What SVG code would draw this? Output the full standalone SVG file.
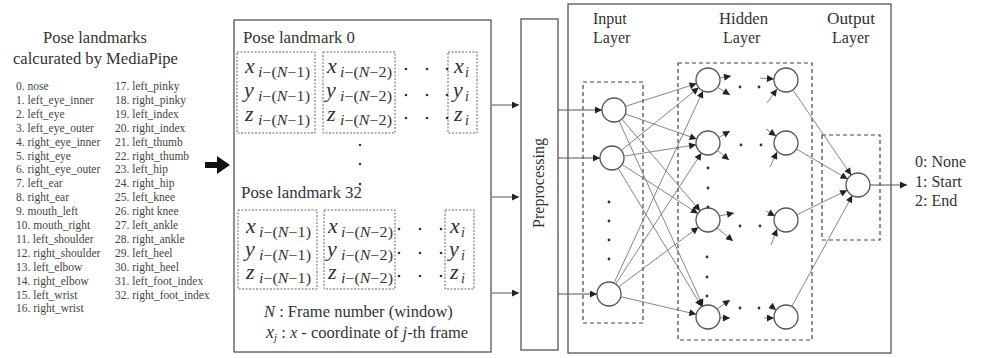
<svg xmlns="http://www.w3.org/2000/svg" width="982" height="358" viewBox="0 0 982 358" font-family="'Liberation Serif', 'DejaVu Serif', serif">
<style>
text{font-family:'Liberation Serif','DejaVu Serif',serif;fill:#333}
.title{font-size:17px}
.lst{font-size:11.5px;fill:#444}
.lbl{font-size:16px}
.pl{font-size:16.5px}
.m{font-size:22px;font-style:italic}
.s{font-size:14px}
.box{fill:none;stroke:#555;stroke-width:1.3}
.dot{fill:none;stroke:#666;stroke-width:1;stroke-dasharray:2 1.5}
.dash{fill:none;stroke:#444;stroke-width:1.2;stroke-dasharray:4 3}
.node{fill:#fff;stroke:#555;stroke-width:1.3}
.ln{stroke:#777;stroke-width:0.9;fill:none}
.ar{stroke:#555;stroke-width:1;fill:none}
.pt{fill:#333}
</style>
<defs>
<marker id="ah" viewBox="0 0 10 10" refX="10" refY="5" markerWidth="8" markerHeight="7" markerUnits="userSpaceOnUse" orient="auto">
<path d="M0,0 L10,5 L0,10 z" fill="#222"/>
</marker>
</defs>
<rect width="982" height="358" fill="#fff"/>

<g id="landmark-list">
<text class="title" x="43" y="43" textLength="104" lengthAdjust="spacingAndGlyphs">Pose landmarks</text>
<text class="title" x="13" y="64" textLength="165" lengthAdjust="spacingAndGlyphs">calcurated by MediaPipe</text>
<g class="lst">
<text class="lst" x="16" y="90">0. nose</text>
<text class="lst" x="16" y="103.9">1. left_eye_inner</text>
<text class="lst" x="16" y="117.8">2. left_eye</text>
<text class="lst" x="16" y="131.7">3. left_eye_outer</text>
<text class="lst" x="16" y="145.6">4. right_eye_inner</text>
<text class="lst" x="16" y="159.5">5. right_eye</text>
<text class="lst" x="16" y="173.4">6. right_eye_outer</text>
<text class="lst" x="16" y="187.3">7. left_ear</text>
<text class="lst" x="16" y="201.2">8. right_ear</text>
<text class="lst" x="16" y="215.1">9. mouth_left</text>
<text class="lst" x="16" y="229">10. mouth_right</text>
<text class="lst" x="16" y="242.9">11. left_shoulder</text>
<text class="lst" x="16" y="256.8">12. right_shoulder</text>
<text class="lst" x="16" y="270.7">13. left_elbow</text>
<text class="lst" x="16" y="284.6">14. right_elbow</text>
<text class="lst" x="16" y="298.5">15. left_wrist</text>
<text class="lst" x="16" y="312.4">16. right_wrist</text>
<text class="lst" x="115" y="90">17. left_pinky</text>
<text class="lst" x="115" y="103.9">18. right_pinky</text>
<text class="lst" x="115" y="117.8">19. left_index</text>
<text class="lst" x="115" y="131.7">20. right_index</text>
<text class="lst" x="115" y="145.6">21. left_thumb</text>
<text class="lst" x="115" y="159.5">22. right_thumb</text>
<text class="lst" x="115" y="173.4">23. left_hip</text>
<text class="lst" x="115" y="187.3">24. right_hip</text>
<text class="lst" x="115" y="201.2">25. left_knee</text>
<text class="lst" x="115" y="215.1">26. right knee</text>
<text class="lst" x="115" y="229">27. left_ankle</text>
<text class="lst" x="115" y="242.9">28. right_ankle</text>
<text class="lst" x="115" y="256.8">29. left_heel</text>
<text class="lst" x="115" y="270.7">30. right_heel</text>
<text class="lst" x="115" y="284.6">31. left_foot_index</text>
<text class="lst" x="115" y="298.5">32. right_foot_index</text>
</g>
</g>

<g id="big-arrow">
<path d="M205,162 L217,162 L217,156 L230,165 L217,174 L217,168 L205,168 z" fill="#111"/>
</g>

<g id="landmark-box">
<rect class="box" x="234" y="20" width="257" height="332"/>
<text class="pl" x="243" y="43" textLength="112" lengthAdjust="spacingAndGlyphs">Pose landmark 0</text>
<rect class="dot" x="237" y="52" width="78" height="81"/>
<rect class="dot" x="323" y="52" width="72" height="81"/>
<rect class="dot" x="448" y="52" width="29" height="81"/>
<text class="m" x="245" y="73">x</text><text class="s" x="258" y="77" textLength="52" lengthAdjust="spacingAndGlyphs"><tspan font-style="italic">i</tspan>−(<tspan font-style="italic">N</tspan>−1)</text>
<text class="m" x="244" y="97">y</text><text class="s" x="258" y="101" textLength="52" lengthAdjust="spacingAndGlyphs"><tspan font-style="italic">i</tspan>−(<tspan font-style="italic">N</tspan>−1)</text>
<text class="m" x="245" y="121">z</text><text class="s" x="258" y="125" textLength="52" lengthAdjust="spacingAndGlyphs"><tspan font-style="italic">i</tspan>−(<tspan font-style="italic">N</tspan>−1)</text>
<text class="m" x="327" y="73">x</text><text class="s" x="340" y="77" textLength="52" lengthAdjust="spacingAndGlyphs"><tspan font-style="italic">i</tspan>−(<tspan font-style="italic">N</tspan>−2)</text>
<text class="m" x="326" y="97">y</text><text class="s" x="340" y="101" textLength="52" lengthAdjust="spacingAndGlyphs"><tspan font-style="italic">i</tspan>−(<tspan font-style="italic">N</tspan>−2)</text>
<text class="m" x="327" y="121">z</text><text class="s" x="340" y="125" textLength="52" lengthAdjust="spacingAndGlyphs"><tspan font-style="italic">i</tspan>−(<tspan font-style="italic">N</tspan>−2)</text>
<text class="m" x="454" y="73">x</text><text class="s" x="465" y="77" font-style="italic">i</text>
<text class="m" x="453" y="97">y</text><text class="s" x="465" y="101" font-style="italic">i</text>
<text class="m" x="454" y="121">z</text><text class="s" x="465" y="125" font-style="italic">i</text>
<circle class="pt" cx="406" cy="69" r="1.3"/><circle class="pt" cx="427" cy="69" r="1.3"/><circle class="pt" cx="447" cy="69" r="1.3"/>
<circle class="pt" cx="406" cy="95" r="1.3"/><circle class="pt" cx="427" cy="95" r="1.3"/><circle class="pt" cx="447" cy="95" r="1.3"/>
<circle class="pt" cx="406" cy="118" r="1.3"/><circle class="pt" cx="427" cy="118" r="1.3"/><circle class="pt" cx="447" cy="118" r="1.3"/>
<circle class="pt" cx="360" cy="145" r="1.3"/><circle class="pt" cx="360" cy="164" r="1.3"/><circle class="pt" cx="360" cy="184" r="1.3"/>
<text class="pl" x="241" y="198" textLength="121" lengthAdjust="spacingAndGlyphs">Pose landmark 32</text>
<rect class="dot" x="238" y="210" width="79" height="79"/>
<rect class="dot" x="324" y="210" width="71" height="79"/>
<rect class="dot" x="445" y="210" width="29" height="79"/>
<text class="m" x="246" y="233">x</text><text class="s" x="259" y="237" textLength="52" lengthAdjust="spacingAndGlyphs"><tspan font-style="italic">i</tspan>−(<tspan font-style="italic">N</tspan>−1)</text>
<text class="m" x="245" y="256">y</text><text class="s" x="259" y="260" textLength="52" lengthAdjust="spacingAndGlyphs"><tspan font-style="italic">i</tspan>−(<tspan font-style="italic">N</tspan>−1)</text>
<text class="m" x="246" y="279">z</text><text class="s" x="259" y="283" textLength="52" lengthAdjust="spacingAndGlyphs"><tspan font-style="italic">i</tspan>−(<tspan font-style="italic">N</tspan>−1)</text>
<text class="m" x="328" y="233">x</text><text class="s" x="341" y="237" textLength="52" lengthAdjust="spacingAndGlyphs"><tspan font-style="italic">i</tspan>−(<tspan font-style="italic">N</tspan>−2)</text>
<text class="m" x="327" y="256">y</text><text class="s" x="341" y="260" textLength="52" lengthAdjust="spacingAndGlyphs"><tspan font-style="italic">i</tspan>−(<tspan font-style="italic">N</tspan>−2)</text>
<text class="m" x="328" y="279">z</text><text class="s" x="341" y="283" textLength="52" lengthAdjust="spacingAndGlyphs"><tspan font-style="italic">i</tspan>−(<tspan font-style="italic">N</tspan>−2)</text>
<text class="m" x="450" y="233">x</text><text class="s" x="461" y="237" font-style="italic">i</text>
<text class="m" x="449" y="256">y</text><text class="s" x="461" y="260" font-style="italic">i</text>
<text class="m" x="450" y="279">z</text><text class="s" x="461" y="283" font-style="italic">i</text>
<circle class="pt" cx="399" cy="229" r="1.3"/><circle class="pt" cx="420" cy="229" r="1.3"/><circle class="pt" cx="441" cy="229" r="1.3"/>
<circle class="pt" cx="399" cy="253" r="1.3"/><circle class="pt" cx="420" cy="253" r="1.3"/><circle class="pt" cx="441" cy="253" r="1.3"/>
<circle class="pt" cx="399" cy="276" r="1.3"/><circle class="pt" cx="420" cy="276" r="1.3"/><circle class="pt" cx="441" cy="276" r="1.3"/>
<text class="pl" x="264" y="317"><tspan font-style="italic">N</tspan> : Frame number (window)</text>
<text class="pl" x="266" y="338"><tspan font-style="italic" font-size="18">x</tspan><tspan font-style="italic" font-size="11" dy="3">j</tspan><tspan dy="-3">  : </tspan><tspan font-style="italic">x</tspan> - coordinate of <tspan font-style="italic">j</tspan>-th frame</text>
</g>

<g id="preprocessing">
<rect class="box" x="521" y="19" width="37" height="331"/>
<text class="lbl" x="0" y="0" text-anchor="middle" transform="translate(544,183) rotate(-90)">Preprocessing</text>
</g>

<g id="nn-box">
<rect class="box" x="568" y="4" width="323" height="349"/>
<text class="lbl" x="593" y="24">Input</text>
<text class="lbl" x="593" y="43">Layer</text>
<text class="lbl" x="719" y="24" textLength="49" lengthAdjust="spacingAndGlyphs">Hidden</text>
<text class="lbl" x="723" y="43">Layer</text>
<text class="lbl" x="827" y="24" textLength="48" lengthAdjust="spacingAndGlyphs">Output</text>
<text class="lbl" x="832" y="43">Layer</text>
</g>

<g id="input-layer">
<rect class="dash" x="583" y="82" width="60" height="241"/>
<circle class="node" cx="614" cy="110" r="12"/>
<circle class="node" cx="612" cy="158" r="12"/>
<circle class="node" cx="609" cy="294" r="12"/>
<circle class="pt" cx="609" cy="202" r="1.4"/><circle class="pt" cx="609" cy="221" r="1.4"/><circle class="pt" cx="609" cy="240" r="1.4"/><circle class="pt" cx="609" cy="259" r="1.4"/>
</g>

<g id="hidden-layer">
<rect class="dash" x="678" y="63" width="134" height="277"/>
<circle class="node" cx="708" cy="80" r="12"/>
<circle class="node" cx="708" cy="143" r="12"/>
<circle class="node" cx="708" cy="220" r="12"/>
<circle class="node" cx="708" cy="317" r="12"/>
<circle class="node" cx="786" cy="80" r="12"/>
<circle class="node" cx="786" cy="143" r="12"/>
<circle class="node" cx="786" cy="220" r="12"/>
<circle class="node" cx="786" cy="317" r="12"/>
<circle class="pt" cx="740" cy="87" r="1.4"/><circle class="pt" cx="759" cy="87" r="1.4"/>
<circle class="pt" cx="741" cy="145" r="1.4"/><circle class="pt" cx="761" cy="145" r="1.4"/>
<circle class="pt" cx="740" cy="226" r="1.4"/><circle class="pt" cx="760" cy="226" r="1.4"/>
<circle class="pt" cx="740" cy="308" r="1.4"/><circle class="pt" cx="759" cy="308" r="1.4"/>
<circle class="pt" cx="708" cy="168" r="1.4"/><circle class="pt" cx="708" cy="188" r="1.4"/><circle class="pt" cx="708" cy="207" r="1.4"/>
<circle class="pt" cx="707" cy="257" r="1.4"/><circle class="pt" cx="707" cy="277" r="1.4"/><circle class="pt" cx="707" cy="296" r="1.4"/>
</g>

<g id="output-layer">
<rect class="dash" x="822" y="135" width="58" height="105"/>
<circle class="node" cx="858" cy="185" r="12"/>
<text class="lbl" x="915" y="167">0: None</text>
<text class="lbl" x="915" y="187">1: Start</text>
<text class="lbl" x="915" y="206">2: End</text>
</g>

<g id="connectors">
<line class="ar" x1="492" y1="105" x2="519" y2="105" marker-end="url(#ah)"/>
<line class="ar" x1="492" y1="197" x2="519" y2="197" marker-end="url(#ah)"/>
<line class="ar" x1="492" y1="293" x2="519" y2="293" marker-end="url(#ah)"/>
<line class="ar" x1="558" y1="110" x2="602" y2="110" marker-end="url(#ah)"/>
<line class="ar" x1="558" y1="158" x2="600" y2="158" marker-end="url(#ah)"/>
<line class="ar" x1="558" y1="294" x2="597" y2="294" marker-end="url(#ah)"/>
<line class="ln" x1="625.4" y1="106.4" x2="696.6" y2="83.6" marker-end="url(#ah)"/>
<line class="ln" x1="625.3" y1="114" x2="696.7" y2="139" marker-end="url(#ah)"/>
<line class="ln" x1="621.8" y1="119.1" x2="700.2" y2="210.9" marker-end="url(#ah)"/>
<line class="ln" x1="619" y1="120.9" x2="703" y2="306.1" marker-end="url(#ah)"/>
<line class="ln" x1="621.3" y1="150.4" x2="698.7" y2="87.6" marker-end="url(#ah)"/>
<line class="ln" x1="623.9" y1="156.1" x2="696.1" y2="144.8" marker-end="url(#ah)"/>
<line class="ln" x1="622.1" y1="164.5" x2="697.9" y2="213.5" marker-end="url(#ah)"/>
<line class="ln" x1="618.2" y1="168.3" x2="701.8" y2="306.7" marker-end="url(#ah)"/>
<line class="ln" x1="614" y1="283.1" x2="703" y2="90.9" marker-end="url(#ah)"/>
<line class="ln" x1="615.6" y1="284" x2="701.4" y2="153" marker-end="url(#ah)"/>
<line class="ln" x1="618.6" y1="286.8" x2="698.4" y2="227.2" marker-end="url(#ah)"/>
<line class="ln" x1="620.7" y1="296.7" x2="696.3" y2="314.3" marker-end="url(#ah)"/>
<line class="ln" x1="719.5" y1="78" x2="731" y2="76" marker-end="url(#ah)"/>
<line class="ln" x1="717" y1="87" x2="730" y2="95" marker-end="url(#ah)"/>
<line class="ln" x1="718" y1="138" x2="730" y2="131" marker-end="url(#ah)"/>
<line class="ln" x1="717" y1="150" x2="729" y2="160" marker-end="url(#ah)"/>
<line class="ln" x1="719" y1="216" x2="734" y2="213" marker-end="url(#ah)"/>
<line class="ln" x1="717" y1="228" x2="733" y2="241" marker-end="url(#ah)"/>
<line class="ln" x1="717" y1="309" x2="730" y2="300" marker-end="url(#ah)"/>
<line class="ln" x1="720" y1="318" x2="730" y2="318" marker-end="url(#ah)"/>
<line class="ln" x1="760" y1="78" x2="774" y2="79" marker-end="url(#ah)"/>
<line class="ln" x1="767" y1="103" x2="777" y2="89" marker-end="url(#ah)"/>
<line class="ln" x1="766" y1="129" x2="776" y2="136" marker-end="url(#ah)"/>
<line class="ln" x1="770" y1="167" x2="777" y2="152" marker-end="url(#ah)"/>
<line class="ln" x1="766" y1="211" x2="775" y2="216" marker-end="url(#ah)"/>
<line class="ln" x1="771" y1="245" x2="777" y2="229" marker-end="url(#ah)"/>
<line class="ln" x1="770" y1="305" x2="776" y2="310" marker-end="url(#ah)"/>
<line class="ln" x1="764" y1="318" x2="774" y2="318" marker-end="url(#ah)"/>
<line class="ln" x1="792.8" y1="89.9" x2="851.2" y2="175.1" marker-end="url(#ah)"/>
<line class="ln" x1="796.4" y1="149" x2="847.6" y2="179" marker-end="url(#ah)"/>
<line class="ln" x1="796.8" y1="214.8" x2="847.2" y2="190.2" marker-end="url(#ah)"/>
<line class="ln" x1="791.7" y1="306.5" x2="852.3" y2="195.5" marker-end="url(#ah)"/>
<line class="ar" x1="870" y1="185" x2="907" y2="185" marker-end="url(#ah)"/>
</g>
</svg>
